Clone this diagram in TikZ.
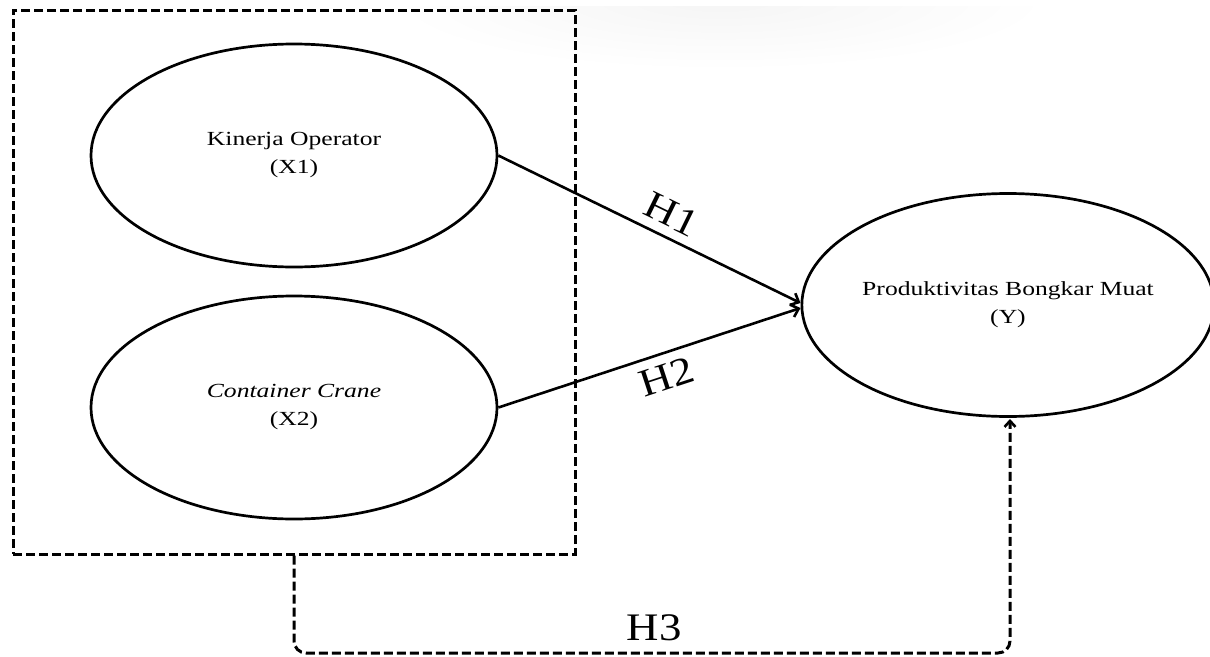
\documentclass[tikz,border=0pt]{standalone}
\usepackage{fontspec}
\setmainfont{Liberation Serif}[FakeStretch=1.28]
\newfontfamily\hfont{Liberation Serif}[FakeStretch=1.15]
\usetikzlibrary{arrows.meta,shapes.geometric}
\tikzset{
  var/.style={ellipse, draw=black, line width=2.7pt, inner sep=0pt,
    align=center, font=\fontsize{20}{28}\selectfont},
  dbox/.style={draw=black, line width=3pt, dash pattern=on 9pt off 4pt},
  arr/.style={line width=2.6pt, -{Straight Barb[length=7pt,width=13pt,line width=2.6pt]}},
  harr/.style={line width=3pt, dash pattern=on 9pt off 4pt, rounded corners=12pt,
    -{Straight Barb[length=6pt,width=11pt,line width=2.6pt]}},
  hlab/.style={font=\hfont\fontsize{39}{42}\selectfont, inner sep=0pt}
}
\begin{document}
\begin{tikzpicture}[x=1pt,y=-1pt]
\useasboundingbox (0,0) rectangle (1210,656);
\begin{scope}
  \clip (0,6) rectangle (1210,120);
  \shade[inner color=black!4, outer color=white] (720,0) ellipse (330 and 70);
\end{scope}
\node[var, minimum width=406pt, minimum height=223pt] (x1) at (294,155.5)
  {Kinerja Operator\\(X1)};
\node[var, minimum width=406pt, minimum height=223pt] (x2) at (294,407.5)
  {\textit{Container Crane}\\(X2)};
\node[var, minimum width=402pt, minimum height=223pt] (y) at (1008,305)
  {Produktivitas Bongkar Muat\\(Y)};
\node[dbox, minimum width=562pt, minimum height=544pt, inner sep=0pt] (box) at (294,282) {};
\draw[arr] (x1.east) -- node[hlab, sloped, pos=0.54, above=9pt] {H1} ([yshift=2pt]y.west);
\draw[arr] (x2.east) -- node[hlab, sloped, pos=0.534, below=9pt] {H2} ([yshift=-3pt]y.west);
\coordinate (h3a) at (294,653);
\coordinate (h3b) at (1010,653);
\draw[harr] (box.south) -- (h3a) -- node[hlab, pos=0.503, above=11pt] {H3} (h3b) -- (1010,419);
\end{tikzpicture}
\end{document}
